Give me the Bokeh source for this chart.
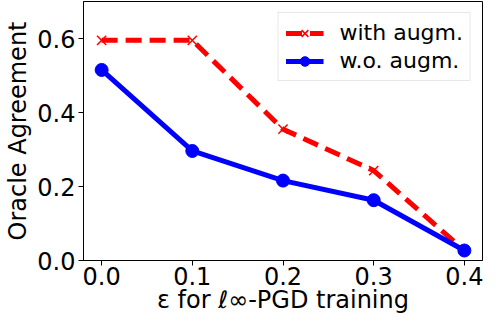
from bokeh.plotting import figure
from bokeh.models import Range1d, FixedTicker, Legend, LegendItem, PrintfTickFormatter
from bokeh.embed import file_html
from bokeh.resources import INLINE

eps = [0.0, 0.1, 0.2, 0.3, 0.4]
with_augm = [0.595, 0.595, 0.355, 0.243, 0.027]
wo_augm = [0.515, 0.296, 0.216, 0.163, 0.027]
x_ticks = [0.0, 0.1, 0.2, 0.3, 0.4]
y_ticks = [0.0, 0.2, 0.4, 0.6]

FONT = "DejaVu Sans"

p = figure(width=483, height=316, output_backend="svg", toolbar_location=None,
           x_range=Range1d(-0.02, 0.42), y_range=Range1d(0, 0.70),
           min_border_left=83, min_border_right=1, min_border_top=1, min_border_bottom=50)
p.xgrid.visible = False
p.ygrid.visible = False
p.outline_line_color = "black"
p.outline_line_width = 1

r1 = p.line(eps, with_augm, line_color="red", line_width=5, line_dash="16 8")
r1m = p.scatter(eps, with_augm, marker="x", size=13, line_color="red", line_width=1.5)
r2 = p.line(eps, wo_augm, line_color="blue", line_width=5)
r2m = p.scatter(eps, wo_augm, marker="circle", size=13, fill_color="blue", line_color="blue")

for ax in (p.xaxis[0], p.yaxis[0]):
    ax.major_label_text_font = FONT
    ax.major_label_text_font_size = "24px"
    ax.major_label_text_color = "black"
    ax.axis_label_text_font = FONT
    ax.axis_label_text_font_size = "24px"
    ax.axis_label_text_font_style = "normal"
    ax.axis_label_text_color = "black"
    ax.minor_tick_line_color = None
    ax.major_tick_out = 5
    ax.major_tick_in = 0
    ax.axis_line_color = "black"
    ax.major_tick_line_color = "black"

p.xaxis.ticker = FixedTicker(ticks=x_ticks)
p.yaxis.ticker = FixedTicker(ticks=y_ticks)
p.xaxis.formatter = PrintfTickFormatter(format="%.1f")
p.yaxis.formatter = PrintfTickFormatter(format="%.1f")
p.xaxis.axis_label = "ε for ℓ∞-PGD training"
p.yaxis.axis_label = "Oracle Agreement"
p.xaxis.axis_label_standoff = -2
p.yaxis.axis_label_standoff = 2
p.xaxis.major_label_standoff = 1
p.yaxis.major_label_standoff = 3

legend = Legend(items=[LegendItem(label="with augm.", renderers=[r1, r1m]),
                       LegendItem(label="w.o. augm.", renderers=[r2, r2m])],
                location="top_right")
legend.label_text_font = FONT
legend.label_text_font_size = "22px"
legend.label_text_color = "black"
legend.label_height = 24
legend.border_line_color = "#d0d0d0"
legend.border_line_width = 1
legend.glyph_width = 38
legend.glyph_height = 24
legend.spacing = 3
legend.padding = 7
legend.margin = 11
legend.label_standoff = 16
p.add_layout(legend)

open("out.html", "w").write(file_html(p, INLINE))
